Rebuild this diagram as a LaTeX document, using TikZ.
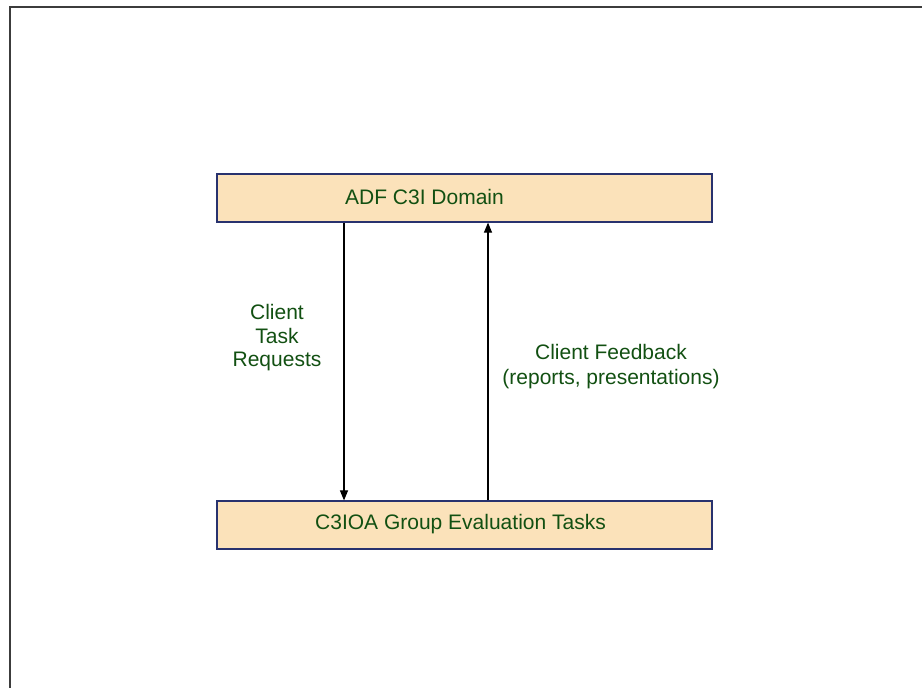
\documentclass[tikz,border=0pt]{standalone}
\usepackage{fontspec}
\setmainfont{Liberation Sans}
\usetikzlibrary{arrows.meta}
\definecolor{boxfill}{RGB}{251,226,186}
\definecolor{boxline}{RGB}{40,50,110}
\definecolor{txtgreen}{RGB}{18,80,18}
\definecolor{framecol}{RGB}{60,60,60}
\tikzset{
  box/.style={draw=boxline, line width=1.2pt, fill=boxfill, minimum width=495pt, minimum height=48pt, inner sep=0pt},
  lbl/.style={text=txtgreen, font=\fontsize{21}{24}\selectfont, inner sep=0pt, align=center},
  arr/.style={line width=1.1pt, -{Triangle[length=10pt,width=8pt]}}
}
\begin{document}
\begin{tikzpicture}[x=1pt,y=-1pt]
\useasboundingbox (0,0) rectangle (922,688);
\draw[framecol, line width=2pt] (9.5,688) -- (9.5,6.5) -- (922,6.5);
\node[box] (top) at (464.5,198) {};
\node[box] (bot) at (464.5,525) {};
\node[lbl] (toptxt) at (424.5,197) {ADF C3I Domain};
\node[lbl] (bottxt) at (460.5,524) {C3IOA Group Evaluation Tasks};
\coordinate (dnA) at ([xshift=-120.5pt]top.south);
\coordinate (dnB) at ([xshift=-120.5pt]bot.north);
\coordinate (upA) at ([xshift=23.5pt]bot.north);
\coordinate (upB) at ([xshift=23.5pt]top.south);
\draw[arr] (dnA) -- (dnB);
\draw[arr] (upA) -- (upB);
\node[lbl, font=\fontsize{21}{23.5}\selectfont] (req) at (277,338) {Client\\Task\\Requests};
\node[lbl, font=\fontsize{21}{25}\selectfont] (fb) at (611,367) {Client Feedback\\(reports, presentations)};
\end{tikzpicture}
\end{document}
